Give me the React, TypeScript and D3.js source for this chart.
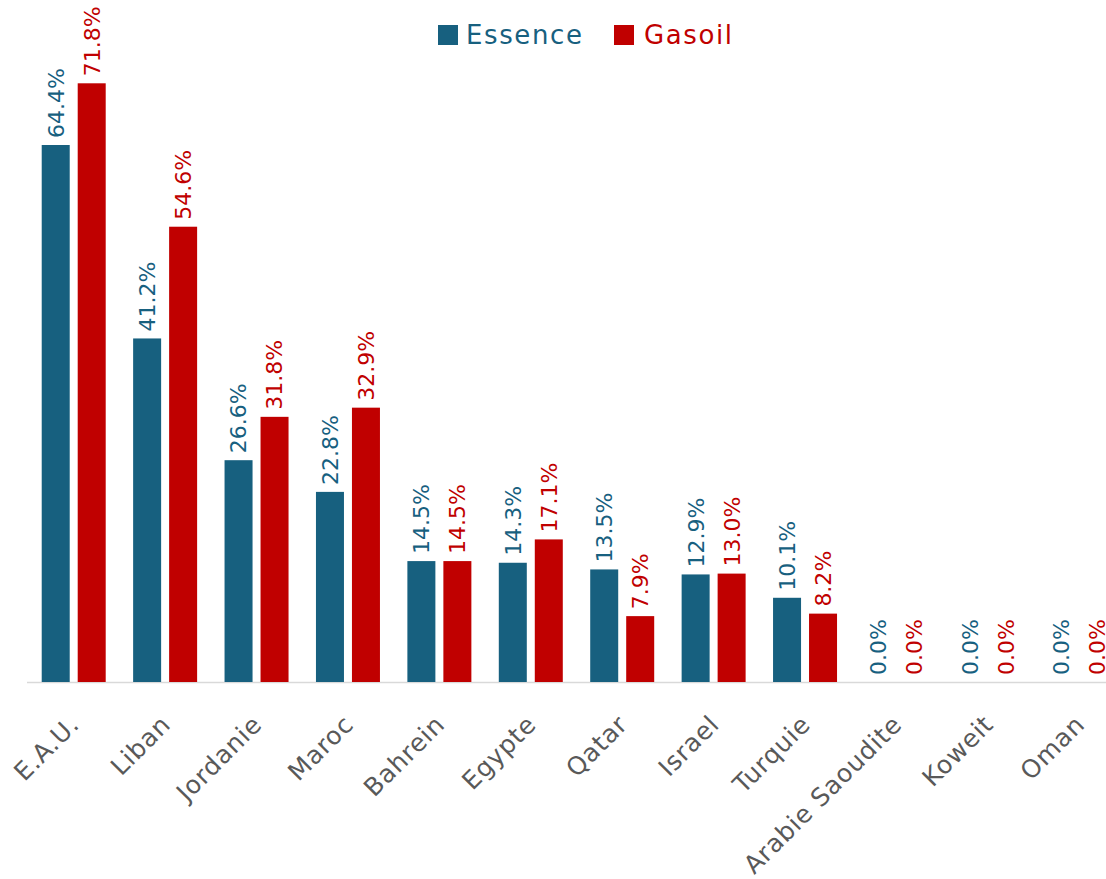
import React from "react";
import * as d3 from "d3";

const categories = ["E.A.U.", "Liban", "Jordanie", "Maroc", "Bahrein", "Egypte", "Qatar", "Israel", "Turquie", "Arabie Saoudite", "Koweit", "Oman"];
const essence = [64.4, 41.2, 26.6, 22.8, 14.5, 14.3, 13.5, 12.9, 10.1, 0.0, 0.0, 0.0];
const gasoil = [71.8, 54.6, 31.8, 32.9, 14.5, 17.1, 7.9, 13.0, 8.2, 0.0, 0.0, 0.0];
const seriesNames = ["Essence", "Gasoil"];
const colors = ["#17607F", "#C00000"];

const W = 1106;
const H = 879;
const FONT = "'DejaVu Sans', 'Open Sans', sans-serif";

export default function App() {
  const baseY = 682;
  const x = d3.scaleBand<string>().domain(categories).range([28, 1125]).paddingInner(0.3).paddingOuter(0.15);
  const inner = d3.scaleBand<string>().domain(seriesNames).range([0, x.bandwidth()]).paddingInner(0.222);
  const y = d3.scaleLinear().domain([0, 64.4]).range([baseY, 145]);
  const series = [essence, gasoil];

  return (
    <svg width={W} height={H} style={{ position: "absolute", left: 0, top: 0, background: "#fff" }} fontFamily={FONT}>
      <line x1={27} x2={W} y1={baseY + 0.5} y2={baseY + 0.5} stroke="#d9d9d9" strokeWidth={1.5} />
      {categories.map((c, i) => (
        <g key={c}>
          {series.map((s, j) => {
            const bx = (x(c) as number) + (inner(seriesNames[j]) as number);
            const bw = inner.bandwidth();
            const top = y(s[i]);
            const cx = bx + bw / 2;
            return (
              <g key={j}>
                {s[i] > 0 && <rect x={bx} y={top} width={bw} height={baseY - top} fill={colors[j]} />}
                <text
                  transform={`translate(${cx},${top - 7}) rotate(-90)`}
                  dy="0.36em"
                  fontSize={22}
                  fill={colors[j]}
                  textAnchor="start"
                >
                  {s[i].toFixed(1)}%
                </text>
              </g>
            );
          })}
          <text
            transform={`translate(${(x(c) as number) + x.bandwidth() / 2 + 7},${baseY + 44}) rotate(-45)`}
            fontSize={25}
            letterSpacing={0.8}
            fill="#595959"
            textAnchor="end"
          >
            {c}
          </text>
        </g>
      ))}
      <g>
        <rect x={438} y={25} width={20} height={20} fill={colors[0]} />
        <text x={466} y={35} dy="0.36em" fontSize={26} letterSpacing={1.6} fill={colors[0]}>Essence</text>
        <rect x={614} y={25} width={20} height={20} fill={colors[1]} />
        <text x={644} y={35} dy="0.36em" fontSize={26} letterSpacing={1.6} fill={colors[1]}>Gasoil</text>
      </g>
    </svg>
  );
}
